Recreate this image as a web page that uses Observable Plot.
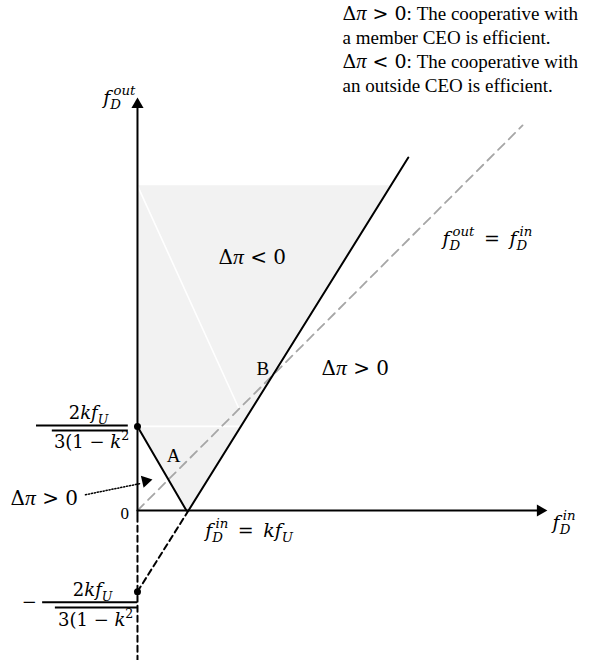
<!DOCTYPE html>
<html>
<head>
<meta charset="utf-8">
<script src="https://cdn.jsdelivr.net/npm/d3@7"></script>
<script src="https://cdn.jsdelivr.net/npm/@observablehq/plot@0.6"></script>
<style>
  html, body { margin: 0; padding: 0; background: #fff; }
  svg { display: block; }
</style>
</head>
<body>
<div id="chart"></div>
<script>
// ---- Diagram values (units: k·f_U = 1) ----
const kfU = 1;                       // x-intercept f_D^in = k f_U
const interceptTop = 1.65;           // 2kf_U / 3(1-k^2)
const interceptBottom = -1.59;       // -2kf_U / 3(1-k^2)
const steepTop = [5.31, 6.92];       // upper end of the boundary line
const diagonalEnd = 7.55;            // end of f_D^out = f_D^in
const shadeTop = 6.37;
const xAxisEnd = 8.04;
const yAxisEnd = 8.10;
const yBottom = -2.94;

// shaded region (Δπ < 0), as rows y -> [x1, x2]
const shadeY  = [0, interceptTop, 2.63, shadeTop];
const shadeX1 = [0.96, 0, 0, 0];
const shadeX2 = [kfU, 2.03, 2.62, 4.96];

// white seams inside the shaded region
const seamX = [[0, 1.98], [0, 1.98]];
const seamY = [[shadeTop, 2.02], [interceptTop, interceptTop]];

// label texts
const labelText = {
  neg: "$Δπ < 0$", pos: "$Δπ > 0$", num: "$2kf_{U}$", den: "$3(1 − k^{2}$",
  minus: "$−$", zero: "0", B: "B", A: "A",
  diag: "$f_{D}^{out}\u2002=\u2002f_{D}^{in}$", xlab: "$f_{D}^{in}$",
  xint: "$f_{D}^{in}\u2002=\u2002kf_{U}$", ylab: "$f_{D}^{out}$"
};
const noteLines = [
  "$Δπ > 0$: The cooperative with",
  "a member CEO is efficient.",
  "$Δπ < 0$: The cooperative with",
  "an outside CEO is efficient."
];
const noteY = [9.73, 9.26, 8.80, 8.33];

// ---- build tables ----
const shade = shadeY.map((y, i) => ({y, x1: shadeX1[i], x2: shadeX2[i]}));
const seams = seamX.flatMap((xs, i) => xs.map((x, j) => ({x, y: seamY[i][j], g: i})));
const solid = [
  {x: kfU, y: 0, g: "steep"}, {x: steepTop[0], y: steepTop[1], g: "steep"},
  {x: 0, y: interceptTop, g: "down"}, {x: 0.96, y: 0, g: "down"},
  {x: 0, y: 0, g: "xaxis"}, {x: xAxisEnd - 0.14, y: 0, g: "xaxis"},
  {x: 0, y: -0.08, g: "yaxis"}, {x: 0, y: yAxisEnd - 0.14, g: "yaxis"}
];
const dashedBlack = [
  {x: 0, y: interceptBottom, g: "ext"}, {x: kfU, y: 0, g: "ext"},
  {x: 0, y: -0.1, g: "vert"}, {x: 0, y: yBottom, g: "vert"}
];
const diagonal = [{x: 0, y: 0}, {x: diagonalEnd, y: diagonalEnd}];
const pointer = [{x: -1.02, y: 0.31}, {x: 0.06, y: 0.53}];
const heads = [
  {x: xAxisEnd - 0.14, y: 0, a: 90},
  {x: 0, y: yAxisEnd - 0.14, a: 0},
  {x: 0.16, y: 0.58, a: 77}
];
const dots = [{x: 0, y: interceptTop}, {x: 0, y: interceptBottom}];
const bars = [
  {y: 1.667, x1: -1.98, x2: -0.18},
  {y: 1.57, x1: -1.67, x2: -0.18},
  {y: -1.80, x1: -1.86, x2: 0},
  {y: -1.90, x1: -1.61, x2: 0}
];
const midLabels = [
  {x: 2.25, y: 4.96, t: labelText.neg, s: 20},
  {x: 4.27, y: 2.78, t: labelText.pos, s: 20},
  {x: -0.96, y: 1.90, t: labelText.num, s: 18},
  {x: -0.90, y: 1.33, t: labelText.den, s: 18},
  {x: -0.88, y: -1.57, t: labelText.num, s: 18},
  {x: -0.82, y: -2.16, t: labelText.den, s: 18},
  {x: -2.12, y: -1.80, t: labelText.minus, s: 18},
  {x: -0.25, y: -0.06, t: labelText.zero, s: 17},
  {x: 2.46, y: 2.78, t: labelText.B, s: 19},
  {x: 0.71, y: 1.08, t: labelText.A, s: 19}
];
const startLabels = [
  {x: 5.98, y: 5.33, t: labelText.diag, s: 19},
  {x: 8.14, y: -0.24, t: labelText.xlab, s: 19},
  {x: 1.33, y: -0.39, t: labelText.xint, s: 19},
  {x: -0.67, y: 8.10, t: labelText.ylab, s: 19},
  {x: -2.49, y: 0.235, t: labelText.pos, s: 20},
  ...noteLines.map((t, i) => ({x: 4.02, y: noteY[i], t, s: 19}))
];

const svg = Plot.plot({
  width: 592,
  height: 660,
  margin: 0,
  x: {domain: [-2.686, 8.922], axis: null},
  y: {domain: [yBottom, 10], axis: null},
  style: {background: "#fff", overflow: "visible"},
  marks: [
    Plot.areaX(shade, {y: "y", x1: "x1", x2: "x2", fill: "#f2f2f2", curve: "linear"}),
    Plot.line(seams, {x: "x", y: "y", z: "g", stroke: "#fff", strokeWidth: 1.6}),
    Plot.line(diagonal, {x: "x", y: "y", stroke: "#a6a6a6", strokeWidth: 1.8, strokeDasharray: "9,6"}),
    Plot.line(solid, {x: "x", y: "y", z: "g", stroke: "#000", strokeWidth: 2}),
    Plot.line(dashedBlack, {x: "x", y: "y", z: "g", stroke: "#000", strokeWidth: 2, strokeDasharray: "6,4"}),
    Plot.line(pointer, {x: "x", y: "y", stroke: "#000", strokeWidth: 1.5, strokeDasharray: "1.2,1.8"}),
    Plot.dot(heads, {x: "x", y: "y", rotate: "a", symbol: "triangle", r: 4.5, fill: "#000", stroke: "none"}),
    Plot.dot(dots, {x: "x", y: "y", r: 3.5, fill: "#000", stroke: "none"}),
    Plot.ruleY(bars, {y: "y", x1: "x1", x2: "x2", stroke: "#000", strokeWidth: 2}),
    Plot.text(midLabels, {x: "x", y: "y", text: "t", fontSize: "s", textAnchor: "middle", fontFamily: "Liberation Serif", fill: "#000"}),
    Plot.text(startLabels, {x: "x", y: "y", text: "t", fontSize: "s", textAnchor: "start", fontFamily: "Liberation Serif", fill: "#000"})
  ]
});
document.getElementById("chart").appendChild(svg);

// ---- turn $...$ markup into math-styled tspans ----
const MATH_FONT = "DejaVu Serif", ROMAN_FONT = "Liberation Serif";
function mathify(el) {
  const src = el.textContent;
  if (!src.includes("$")) return;
  const fs = parseFloat(getComputedStyle(el).fontSize) || 16;
  const toks = [];
  let math = false;
  for (let i = 0; i < src.length; i++) {
    const c = src[i];
    if (c === "$") { math = !math; continue; }
    if (math && (c === "_" || c === "^") && src[i + 1] === "{") {
      const j = src.indexOf("}", i);
      toks.push({kind: c === "_" ? "sub" : "sup", text: src.slice(i + 2, j)});
      i = j; continue;
    }
    const style = !math ? "roman" : c === "π" ? "greek" : (/[a-z]/i.test(c) ? "italic" : "upright");
    const last = toks[toks.length - 1];
    if (last && last.kind === "run" && last.style === style) last.text += c;
    else toks.push({kind: "run", style, text: c});
  }
  el.textContent = "";
  const NS = "http://www.w3.org/2000/svg";
  let cur = 0, pending = 0, prevSub = null;
  toks.forEach(t => {
    const ts = document.createElementNS(NS, "tspan");
    ts.textContent = t.text;
    let target = 0, size = fs;
    if (t.kind === "sub") { target = 0.28 * fs; size = 0.7 * fs; }
    if (t.kind === "sup") { target = -0.45 * fs; size = 0.7 * fs; }
    ts.setAttribute("dy", target - cur); cur = target;
    ts.setAttribute("font-size", size);
    const roman = t.kind === "run" && (t.style === "roman" || t.style === "greek");
    ts.setAttribute("font-family", roman ? ROMAN_FONT : MATH_FONT);
    if (t.style === "greek") ts.setAttribute("font-size", fs * 1.08);
    const italic = t.kind === "run" ? (t.style === "italic" || t.style === "greek") : /[a-z]/i.test(t.text);
    if (italic) ts.setAttribute("font-style", "italic");
    let dx = pending; pending = 0;
    const shift = 0.16 * fs;
    if (t.kind === "sup" && prevSub) dx += -prevSub.getComputedTextLength() + shift;
    if (dx) ts.setAttribute("dx", dx);
    el.appendChild(ts);
    if (t.kind === "sup" && prevSub) {
      const w = ts.getComputedTextLength() + shift, ws = prevSub.getComputedTextLength();
      if (ws > w) pending = ws - w;
    }
    prevSub = t.kind === "sub" ? ts : null;
  });
}
svg.querySelectorAll("text").forEach(mathify);
</script>
</body>
</html>
